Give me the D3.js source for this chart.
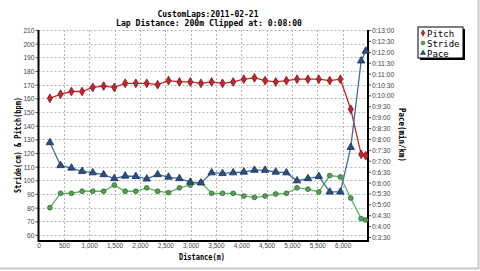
<!DOCTYPE html>
<html>
<head>
<meta charset="utf-8">
<script src="https://cdn.jsdelivr.net/npm/d3@7"></script>
<style>
  body { margin: 0; background: #fff; }
</style>
</head>
<body>
<div id="runApp"></div>
<script>
// lap data
const distance = [225, 435, 650, 860, 1070, 1285, 1495, 1710, 1920, 2135, 2350, 2565, 2780, 2995, 3205, 3415,
  3630, 3840, 4050, 4260, 4470, 4680, 4890, 5100, 5315, 5530, 5745, 5955, 6160, 6365, 6455];
const pitch = [160, 163, 165, 165, 168, 169, 168, 171, 171, 171, 170, 173, 172, 172, 171, 172,
  171, 172, 174, 175, 173, 172, 173, 174, 174, 174, 173, 174, 152, 119, 118];
const stride = [80, 90.5, 90.5, 92, 92, 92, 96.5, 92, 92, 94.5, 92, 91, 94.5, 96.5, 98.5, 90.5,
  90.5, 90.5, 88.5, 87.5, 88.5, 90, 90.5, 94.5, 93.5, 91.5, 103.5, 102.5, 87, 72, 71];
// pace in seconds per km
const pace = [470, 407, 400, 391, 387, 382, 371, 378, 377, 370, 382, 375, 371, 361, 359, 387,
  385, 387, 389, 394, 394, 389, 387, 365, 371, 377, 334, 334, 457, 695, 722];

const xTicks = d3.range(0, 6001, 500);
const leftTicks = d3.range(60, 211, 10);
const paceTicks = d3.range(210, 781, 30);
const seriesNames = ["Pitch", "Stride", "Pace"];

const width = 480;
const height = 271;
const plot = { left: 38.5, right: 368, top: 30, bottom: 241 };

let svg;

const x = d3.scaleLinear([0, 6500], [plot.left, plot.right]);
const yLeft = d3.scaleLinear([55.6, 210], [plot.bottom, plot.top]);
const yPace = d3.scaleLinear([199, 780], [plot.bottom, plot.top]);

const styles = {
  Pitch: { line: "#c4262e", fill: "#c4262e", stroke: "#7d1218", symbol: d3.symbolDiamond, size: 22 },
  Stride: { line: "#62b562", fill: "#58a058", stroke: "#2d6a2d", symbol: d3.symbolCircle, size: 18 },
  Pace: { line: "#44699c", fill: "#2c5082", stroke: "#172f52", symbol: d3.symbolTriangle, size: 24 },
};

const mono = "'DejaVu Sans Mono', 'Liberation Mono', monospace";
const narrow = "'Liberation Sans', Arial, sans-serif";

function fmtPace(s) {
  const m = Math.floor(s / 60);
  const sec = s % 60;
  return `0:${m}:${String(sec).padStart(2, "0")}`;
}

// squeeze small tick labels to the narrow bitmap look of the original
function narrowText(sel, perChar) {
  sel.attr("textLength", function () {
    const t = this.textContent;
    let w = 0;
    for (const c of t) w += (c === "," || c === ":") ? perChar * 0.5 : perChar;
    return w;
  }).attr("lengthAdjust", "spacingAndGlyphs");
}

async function prepareVis() {
  svg = d3.select("#runApp")
    .append("svg")
    .attr("width", width)
    .attr("height", height)
    .style("display", "block");

  // window frame lines
  svg.append("line").attr("x1", 0).attr("x2", 479).attr("y1", 268.5).attr("y2", 268.5)
    .attr("stroke", "#c8c8c8").attr("stroke-width", 2);
  svg.append("line").attr("x1", 478.5).attr("x2", 478.5).attr("y1", 0).attr("y2", 269)
    .attr("stroke", "#c8c8c8").attr("stroke-width", 2);
}

function drawSeries(name, values, yScale) {
  const st = styles[name];
  const pts = distance.map((d, i) => [x(d), yScale(values[i])]);

  svg.append("path")
    .attr("d", d3.line()(pts))
    .attr("fill", "none")
    .attr("stroke", st.line)
    .attr("stroke-width", 1.3);

  svg.append("g")
    .selectAll("path")
    .data(pts)
    .join("path")
    .attr("transform", (d) => `translate(${d[0]},${d[1]})`)
    .attr("d", d3.symbol(st.symbol, st.size))
    .attr("fill", st.fill)
    .attr("stroke", st.stroke)
    .attr("stroke-width", 0.8);
}

async function drawVis() {
  // grid
  const grid = svg.append("g")
    .attr("stroke", "#b4b4b4")
    .attr("stroke-dasharray", "2,2")
    .attr("stroke-width", 1);

  grid.selectAll("line.h")
    .data(leftTicks)
    .join("line")
    .attr("x1", plot.left).attr("x2", plot.right)
    .attr("y1", (d) => Math.round(yLeft(d)) + 0.5)
    .attr("y2", (d) => Math.round(yLeft(d)) + 0.5);

  grid.selectAll("line.v")
    .data(xTicks.filter((d) => d > 0))
    .join("line")
    .attr("x1", (d) => Math.round(x(d)) + 0.5)
    .attr("x2", (d) => Math.round(x(d)) + 0.5)
    .attr("y1", plot.top).attr("y2", plot.bottom);

  // left axis
  const left = svg.append("g")
    .attr("transform", `translate(${plot.left},0)`)
    .call(d3.axisLeft(yLeft).tickValues(leftTicks).tickSize(3).tickPadding(1));
  left.select(".domain").remove();
  left.selectAll("line").attr("stroke", "#555");
  left.selectAll("text")
    .attr("font-family", narrow)
    .attr("font-size", 8)
    .attr("fill", "#444")
    .call(narrowText, 3.7);

  // right axis (pace)
  const right = svg.append("g")
    .attr("transform", `translate(${plot.right},0)`)
    .call(d3.axisRight(yPace).tickValues(paceTicks).tickFormat(fmtPace).tickSize(3).tickPadding(1));
  right.select(".domain").remove();
  right.selectAll("line").attr("stroke", "#555");
  right.selectAll("text")
    .attr("font-family", narrow)
    .attr("font-size", 8)
    .attr("fill", "#444")
    .call(narrowText, 3.7);

  // bottom axis
  const bottom = svg.append("g")
    .attr("transform", `translate(0,${plot.bottom})`)
    .call(d3.axisBottom(x).tickValues(xTicks).tickFormat(d3.format(",")).tickSize(0).tickPadding(2));
  bottom.select(".domain").remove();
  bottom.selectAll("text")
    .attr("font-family", narrow)
    .attr("font-size", 7.5)
    .attr("fill", "#444")
    .call(narrowText, 3.6);

  // frame
  svg.append("path")
    .attr("d", `M${plot.left},${plot.top}V${plot.bottom}H${plot.right}V${plot.top}`)
    .attr("fill", "none")
    .attr("stroke", "#000")
    .attr("stroke-width", 2);

  drawSeries("Pitch", pitch, yLeft);
  drawSeries("Stride", stride, yLeft);
  drawSeries("Pace", pace, yPace);

  // titles
  svg.append("text")
    .attr("x", 208).attr("y", 17)
    .attr("text-anchor", "middle")
    .attr("font-family", mono).attr("font-weight", "bold").attr("font-size", 9)
    .attr("textLength", 101).attr("lengthAdjust", "spacingAndGlyphs")
    .text("CustomLaps:2011-02-21");
  svg.append("text")
    .attr("x", 209).attr("y", 26)
    .attr("text-anchor", "middle")
    .attr("font-family", mono).attr("font-weight", "bold").attr("font-size", 9)
    .attr("textLength", 186).attr("lengthAdjust", "spacingAndGlyphs")
    .text("Lap Distance: 200m Clipped at: 0:08:00");

  svg.append("text")
    .attr("x", 202).attr("y", 259.5)
    .attr("text-anchor", "middle")
    .attr("font-family", mono).attr("font-weight", "bold").attr("font-size", 8)
    .attr("textLength", 46).attr("lengthAdjust", "spacingAndGlyphs")
    .text("Distance(m)");

  svg.append("text")
    .attr("transform", "translate(21,145) rotate(-90)")
    .attr("text-anchor", "middle")
    .attr("font-family", mono).attr("font-weight", "bold").attr("font-size", 8.5)
    .attr("textLength", 96).attr("lengthAdjust", "spacingAndGlyphs")
    .text("Stride(cm) & Pitch(bpm)");

  svg.append("text")
    .attr("transform", "translate(399,135) rotate(90)")
    .attr("text-anchor", "middle")
    .attr("font-family", mono).attr("font-weight", "bold").attr("font-size", 8.5)
    .attr("textLength", 54).attr("lengthAdjust", "spacingAndGlyphs")
    .text("Pace(min/km)");

  // legend
  const lg = svg.append("g").attr("transform", "translate(418,27)");
  lg.append("rect").attr("x", 2).attr("y", 2).attr("width", 45).attr("height", 31).attr("fill", "#000");
  lg.append("rect").attr("x", 0).attr("y", 0).attr("width", 45).attr("height", 31)
    .attr("fill", "#fff").attr("stroke", "#000").attr("stroke-width", 1);

  const items = lg.selectAll("g.item")
    .data(seriesNames)
    .join("g")
    .attr("transform", (d, i) => `translate(0,${6 + i * 10})`);
  items.append("path")
    .attr("transform", "translate(5,0)")
    .attr("d", (d) => d3.symbol(styles[d].symbol, 12)())
    .attr("fill", (d) => styles[d].fill)
    .attr("stroke", (d) => styles[d].stroke)
    .attr("stroke-width", 0.5);
  items.append("text")
    .attr("x", 9).attr("y", 3.5)
    .attr("font-family", mono).attr("font-size", 9)
    .attr("fill", "#000")
    .text((d) => d);
}

async function runApp() {
  await prepareVis();
  await drawVis();
}

runApp();
</script>
</body>
</html>
